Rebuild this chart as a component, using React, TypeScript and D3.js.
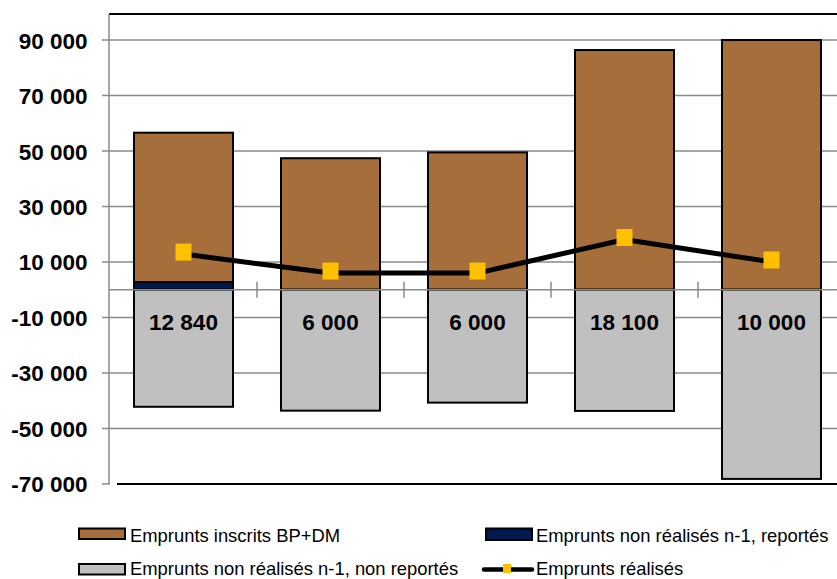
import React from "react";
import * as d3 from "d3";

const categories = ["C1", "C2", "C3", "C4", "C5"];
const inscrits = [53900, 47400, 49500, 86400, 90000];
const reportes = [2700, 0, 0, 0, 0];
const nonReportes = [-42200, -43600, -40700, -43700, -68200];
const realises = [12840, 6000, 6000, 18100, 10000];
const yTicks = [-70000, -50000, -30000, -10000, 10000, 30000, 50000, 70000, 90000];
const legendLabels = [
  "Emprunts inscrits BP+DM",
  "Emprunts non réalisés n-1, reportés",
  "Emprunts non réalisés n-1, non reportés",
  "Emprunts réalisés",
];

const W = 837;
const H = 579;
const BROWN = "#A56E3A";
const NAVY = "#001A4F";
const GRAY = "#C0C0C0";
const GOLD = "#FFC000";
const GRID = "#8A8A8A";
const FONT = "'Liberation Sans', Arial, sans-serif";

const locale = d3.formatLocale({ thousands: " ", grouping: [3], decimal: ",", currency: ["", ""], minus: "-" });
const fmt = locale.format(",d");

export default function App() {
  const left = 110;
  const x = d3
    .scaleBand<string>()
    .domain(categories)
    .range([left, left + 735])
    .paddingInner(0.3265)
    .paddingOuter(0.16325);
  const y = d3.scaleLinear().domain([-70000, 100000]).range([483.9, 12.3]);
  const step = x.step();
  const y0 = y(0);
  const right = W + 10;
  const cx = (c: string) => (x(c) as number) + x.bandwidth() / 2;

  const line = d3
    .line<number>()
    .x((_, i) => cx(categories[i]))
    .y((d) => y(d));

  return (
    <svg
      width={W}
      height={H}
      style={{ position: "absolute", left: 0, top: 0, background: "#fff" }}
      fontFamily={FONT}
    >
      {/* gridlines */}
      {yTicks.map((t) => (
        <g key={t}>
          <line x1={102} x2={t === -70000 ? left : right} y1={y(t)} y2={y(t)} stroke={GRID} strokeWidth={1.5} />
          <text x={87.5} y={y(t) + 8.5} textAnchor="end" fontSize={22.5} fontWeight="bold" fill="#000">
            {fmt(t)}
          </text>
        </g>
      ))}
      {/* plot borders */}
      <line x1={left - 1} x2={right} y1={14} y2={14} stroke="#000" strokeWidth={2} />
      <line x1={left + 7} x2={right} y1={y(-70000)} y2={y(-70000)} stroke="#000" strokeWidth={2} />
      <line x1={left - 1} x2={left - 1} y1={14} y2={y(-70000)} stroke={GRID} strokeWidth={1.5} />

      {/* bars */}
      {categories.map((c, i) => {
        const bx = x(c) as number;
        const bw = x.bandwidth();
        return (
          <g key={c} stroke="#000" strokeWidth={2}>
            <rect x={bx} y={y(reportes[i] + inscrits[i])} width={bw} height={y(reportes[i]) - y(reportes[i] + inscrits[i])} fill={BROWN} />
            {reportes[i] > 0 && (
              <rect x={bx} y={y(reportes[i])} width={bw} height={y0 - y(reportes[i])} fill={NAVY} />
            )}
            <rect x={bx} y={y0} width={bw} height={y(nonReportes[i]) - y0} fill={GRAY} />
          </g>
        );
      })}

      {/* zero axis */}
      <line x1={left - 1} x2={right} y1={y0} y2={y0} stroke={GRID} strokeWidth={1.5} />
      {categories.slice(1).map((c) => (
        <line key={c} x1={(x(c) as number) - (step - x.bandwidth()) / 2} x2={(x(c) as number) - (step - x.bandwidth()) / 2} y1={y0 - 8} y2={y0 + 8} stroke={GRID} strokeWidth={1.5} />
      ))}

      {/* line series */}
      <path d={line(realises) || ""} fill="none" stroke="#000" strokeWidth={5} />
      {realises.map((v, i) => (
        <rect key={i} x={cx(categories[i]) - 8} y={y(v) - 8.5 - 2} width={16} height={17} fill={GOLD} />
      ))}
      {realises.map((v, i) => (
        <text key={"l" + i} x={cx(categories[i])} y={y0 + 40.5} textAnchor="middle" fontSize={22.5} fontWeight="bold" fill="#000">
          {fmt(v)}
        </text>
      ))}

      {/* legend */}
      <g fontSize={18.4} fill="#000">
        <rect x={79} y={528.5} width={46} height={10.5} fill={BROWN} stroke="#000" strokeWidth={2} />
        <text x={130} y={541.5}>{legendLabels[0]}</text>
        <rect x={486} y={528.5} width={46} height={11.5} fill={NAVY} stroke="#000" strokeWidth={2} />
        <text x={536} y={541.5}>{legendLabels[1]}</text>
        <rect x={79} y={564} width={46} height={10.5} fill={GRAY} stroke="#000" strokeWidth={2} />
        <text x={130} y={575}>{legendLabels[2]}</text>
        <line x1={484} x2={532} y1={569.5} y2={569.5} stroke="#000" strokeWidth={4.5} strokeLinecap="round" />
        <rect x={503} y={564} width={8} height={9} fill={GOLD} />
        <text x={536} y={575}>{legendLabels[3]}</text>
      </g>
    </svg>
  );
}
